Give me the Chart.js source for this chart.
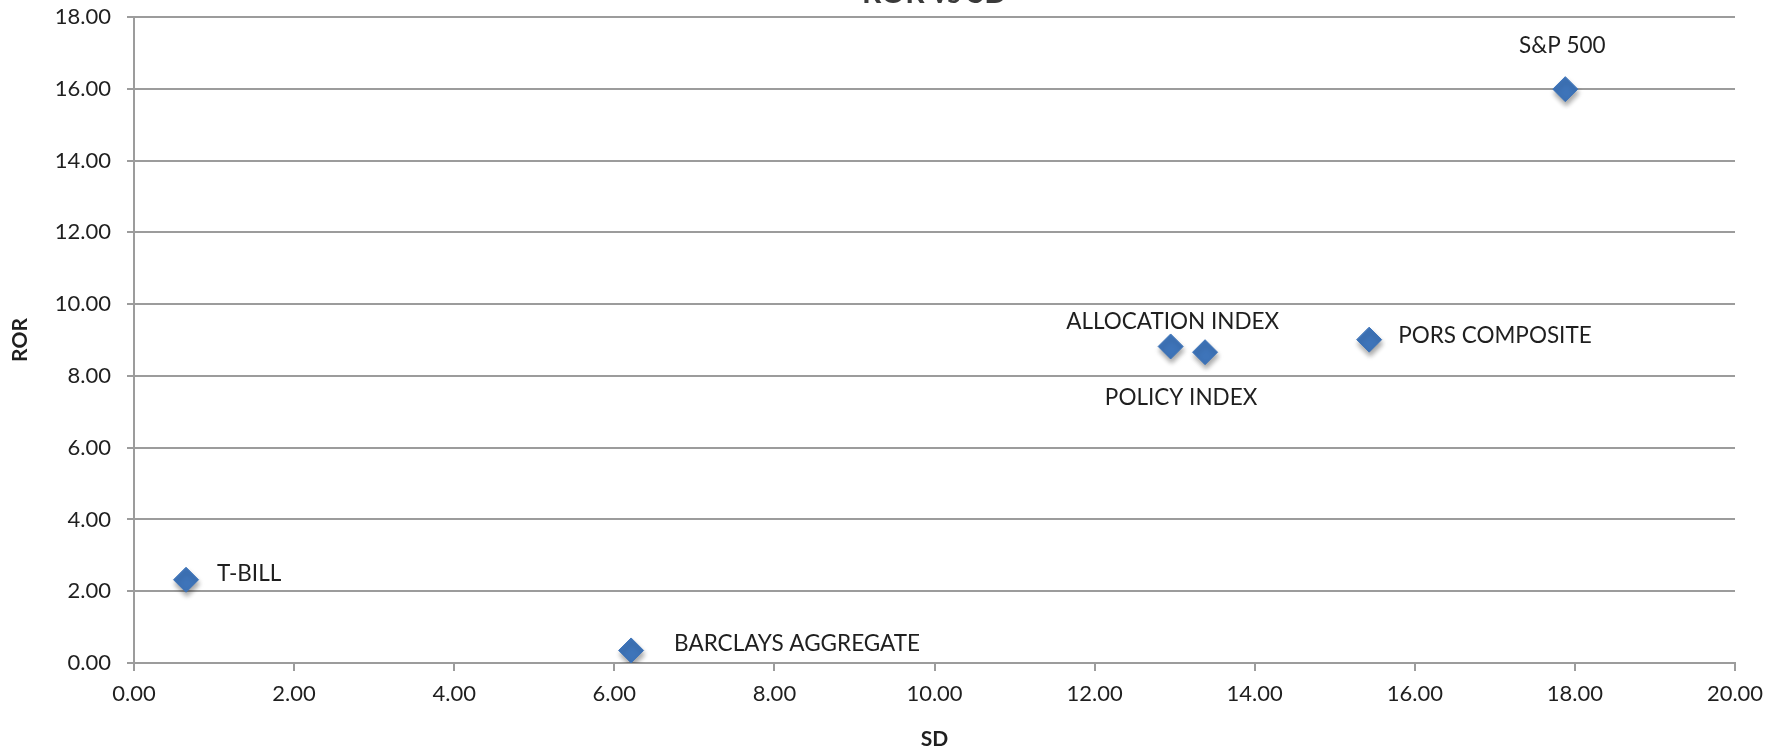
<!DOCTYPE html>
<html>
<head>
<meta charset="utf-8">
<title>ROR vs SD</title>
<script src="https://cdn.jsdelivr.net/npm/chart.js@4/dist/chart.umd.min.js"></script>
<style>
	body { margin: 0; background: #fff; }
	.chart-box { width: 1788px; height: 755px; }
</style>
</head>
<body>
<div class="chart-box"><canvas id="myChart"></canvas></div>
<script>
// funds plotted: standard deviation (SD) vs rate of return (ROR)
let names = ['T-BILL', 'BARCLAYS AGGREGATE', 'ALLOCATION INDEX', 'POLICY INDEX', 'PORS COMPOSITE', 'S&P 500'];
let sdValues = [0.65, 6.21, 12.95, 13.38, 15.43, 17.88];
let rorValues = [2.32, 0.35, 8.82, 8.66, 9.01, 15.99];
let xTicks = [0, 2, 4, 6, 8, 10, 12, 14, 16, 18, 20];
let yTicks = [0, 2, 4, 6, 8, 10, 12, 14, 16, 18];

// where each name sits relative to its marker
let labelAlign = ['left', 'left', 'center', 'center', 'left', 'center'];
let labelDx = [31, 43, 2, -24, 29, -3];
let labelDy = [-6, -7, -25, 46, -4, -43];

const font = 'Lato, "Open Sans", sans-serif';
const textColor = '#1f1f1f';
const gridColor = '#9c9c9c';

let points = names.map((n, i) => ({ x: sdValues[i], y: rorValues[i] }));

// soft drop shadow under the diamonds
const markerShadow = {
	id: 'markerShadow',
	beforeDatasetsDraw(chart) {
		const ctx = chart.ctx;
		ctx.save();
		ctx.shadowColor = 'rgba(0,0,0,0.35)';
		ctx.shadowBlur = 5;
		ctx.shadowOffsetX = 1;
		ctx.shadowOffsetY = 4;
	},
	afterDatasetsDraw(chart) {
		chart.ctx.restore();
	},
};

// names beside each point
const pointNames = {
	id: 'pointNames',
	afterDatasetsDraw(chart) {
		const ctx = chart.ctx;
		const meta = chart.getDatasetMeta(0);
		ctx.save();
		ctx.font = '22.5px ' + font;
		ctx.fillStyle = textColor;
		ctx.textBaseline = 'middle';
		meta.data.forEach((pt, i) => {
			ctx.textAlign = labelAlign[i];
			ctx.fillText(names[i], pt.x + labelDx[i], pt.y + labelDy[i]);
		});
		ctx.restore();
	},
};

// chart heading, sits mostly above the top edge
const heading = {
	id: 'heading',
	afterDraw(chart) {
		const ctx = chart.ctx;
		ctx.save();
		ctx.font = 'bold 30px ' + font;
		ctx.fillStyle = '#3a3a3a';
		ctx.textAlign = 'center';
		ctx.textBaseline = 'alphabetic';
		ctx.fillText('ROR vs SD', (chart.chartArea.left + chart.chartArea.right) / 2, 3);
		ctx.restore();
	},
};

let myChart = document.getElementById('myChart').getContext('2d');

let chart = new Chart(myChart, {
	type: 'scatter',
	data: {
		datasets: [
			{
				data: points,
				pointStyle: 'rectRot',
				pointRadius: 12.5,
				pointHoverRadius: 12.5,
				backgroundColor: '#3e74b9',
				borderColor: '#3e74b9',
				borderWidth: 1,
			},
		],
	},
	options: {
		responsive: true,
		maintainAspectRatio: false,
		animation: false,
		layout: {
			padding: { left: 0, top: 17, right: 53, bottom: 0 },
		},
		plugins: {
			legend: { display: false },
			tooltip: { enabled: false },
		},
		scales: {
			x: {
				type: 'linear',
				min: xTicks[0],
				max: xTicks[xTicks.length - 1],
				afterBuildTicks(axis) {
					axis.ticks = xTicks.map((v) => ({ value: v }));
				},
				afterFit(axis) {
					axis.height = 92;
				},
				ticks: {
					color: textColor,
					font: { family: font, size: 22 },
					padding: 10,
					maxRotation: 0,
					callback: (v) => v.toFixed(2),
				},
				grid: {
					drawOnChartArea: false,
					drawTicks: true,
					tickLength: 8,
					color: gridColor,
					lineWidth: 2,
				},
				border: { color: gridColor, width: 2 },
				title: {
					display: true,
					text: 'SD',
					color: textColor,
					font: { family: font, size: 21, weight: 'bold' },
					padding: { top: 0, bottom: 3 },
				},
			},
			y: {
				type: 'linear',
				min: yTicks[0],
				max: yTicks[yTicks.length - 1],
				afterBuildTicks(axis) {
					axis.ticks = yTicks.map((v) => ({ value: v }));
				},
				afterFit(axis) {
					axis.width = 134;
					// let the top label hang over the padding
					axis.paddingTop = 0;
					axis.paddingBottom = 0;
				},
				ticks: {
					color: textColor,
					font: { family: font, size: 22 },
					padding: 16,
					callback: (v) => v.toFixed(2),
				},
				grid: {
					drawTicks: true,
					tickLength: 7,
					color: gridColor,
					lineWidth: 2,
				},
				border: { color: gridColor, width: 2 },
				title: {
					display: true,
					text: 'ROR',
					color: textColor,
					font: { family: font, size: 21, weight: 'bold' },
					padding: { top: 8, bottom: 0 },
				},
			},
		},
	},
	plugins: [markerShadow, pointNames, heading],
});
</script>
</body>
</html>
